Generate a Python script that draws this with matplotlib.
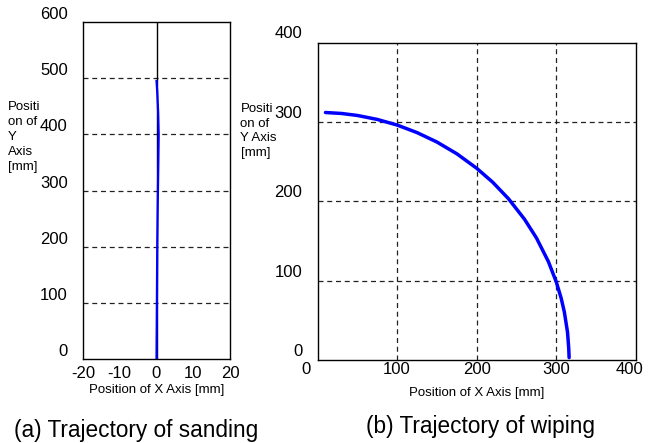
import matplotlib
matplotlib.use("Agg")
import matplotlib.pyplot as plt
import matplotlib.transforms as mtransforms

plt.rcParams['font.family'] = ['Liberation Sans', 'DejaVu Sans']

# ---- data ----
sand_x = [0.0, 0.1, 0.2, 0.35, 0.5, 0.6, 0.45, 0.2, 0.0]
sand_y = [0, 100, 200, 280, 350, 400, 440, 475, 495]

wipe_x = [10, 30, 50, 75, 100, 125, 150, 175, 200, 220, 240, 260, 275, 290, 300, 306, 310, 314, 315.5, 316]
wipe_y = [311.8, 310.6, 308.1, 303.1, 296, 286.5, 274.6, 259.8, 241.5, 224, 203, 177.3, 153.7, 123.9, 98, 77.9, 60.5, 35, 15, 3]

left_xticks = [-20, -10, 0, 10, 20]
left_yticks = [0, 100, 200, 300, 400, 500, 600]
left_grid_y = [100, 200, 300, 400, 500]
right_ticks = [0, 100, 200, 300, 400]
right_grid = [100, 200, 300]

W, H = 650, 443
fig = plt.figure(figsize=(W / 100, H / 100), dpi=100)

def box(l, t, r, b):
    return [l / W, 1 - b / H, (r - l) / W, (b - t) / H]

def px(dx, dy):
    return mtransforms.ScaledTranslation(dx / 100, dy / 100, fig.dpi_scale_trans)

grid_kw = dict(color='#222222', linestyle=(0, (4, 3)), linewidth=0.9, zorder=1)
TICK_FS = 12
SMALL_FS = 9.5
CAP_FS = 16.3

# ---- left: sanding ----
ax1 = fig.add_axes(box(83, 22, 230, 359))
ax1.set_xlim(-20, 20)
ax1.set_ylim(0, 600)
for gy in left_grid_y:
    ax1.axhline(gy, **grid_kw)
ax1.axvline(0, color='black', linewidth=1.0, zorder=2)
ax1.plot(sand_x, sand_y, color='#0000ff', linewidth=1.6, zorder=3)
ax1.set_xticks(left_xticks)
ax1.set_xticklabels([str(v) for v in left_xticks])
ax1.set_xticks([-10, 10], minor=True)
ax1.tick_params(axis='x', which='major', length=0, pad=5, labelsize=TICK_FS)
ax1.tick_params(axis='x', which='minor', direction='in', length=4, width=0.8)
ax1.set_yticks(left_yticks)
ax1.set_yticklabels([str(v) for v in left_yticks])
ax1.tick_params(axis='y', length=0, pad=11, labelsize=TICK_FS)
for lab in ax1.get_yticklabels():
    lab.set_transform(lab.get_transform() + px(0, 9))
ax1.set_xlabel('Position of X Axis [mm]', fontsize=SMALL_FS, labelpad=2)
for s in ax1.spines.values():
    s.set_linewidth(1.0)
fig.text(8 / W, 1 - 101 / H, 'Positi\non of\nY\nAxis\n[mm]', fontsize=SMALL_FS,
         ha='left', va='top', linespacing=1.34)
fig.text(136 / W, 1 - 430 / H, '(a) Trajectory of sanding', fontsize=CAP_FS,
         ha='center', va='center')

# ---- right: wiping ----
ax2 = fig.add_axes(box(317.5, 42.5, 636, 360))
ax2.set_xlim(0, 400)
ax2.set_ylim(0, 400)
for gy in right_grid:
    ax2.axhline(gy, **grid_kw)
for gx in right_grid:
    ax2.axvline(gx, **grid_kw)
ax2.plot(wipe_x, wipe_y, color='#0000ff', linewidth=2.5, zorder=3,
         solid_capstyle='round')
ax2.set_xticks(right_ticks)
ax2.set_xticklabels([str(v) for v in right_ticks])
ax2.set_yticks(right_ticks)
ax2.set_yticklabels([str(v) for v in right_ticks])
ax2.tick_params(axis='both', length=0, labelsize=TICK_FS)
ax2.tick_params(axis='y', pad=11)
ax2.tick_params(axis='x', pad=1.5)
for lab in ax2.get_yticklabels():
    lab.set_transform(lab.get_transform() + px(0, 10))
xl = ax2.get_xticklabels()
xl[0].set_transform(xl[0].get_transform() + px(-12, 0))
xl[-1].set_transform(xl[-1].get_transform() + px(-6, 0))
ax2.set_xlabel('Position of X Axis [mm]', fontsize=SMALL_FS, labelpad=7)
for s in ax2.spines.values():
    s.set_linewidth(1.0)
fig.text(240.5 / W, 1 - 103 / H, 'Positi\non of\nY Axis\n[mm]', fontsize=SMALL_FS,
         ha='left', va='top', linespacing=1.3)
fig.text(481 / W, 1 - 426 / H, '(b) Trajectory of wiping', fontsize=CAP_FS,
         ha='center', va='center')

fig.savefig('out.png', dpi=100)
